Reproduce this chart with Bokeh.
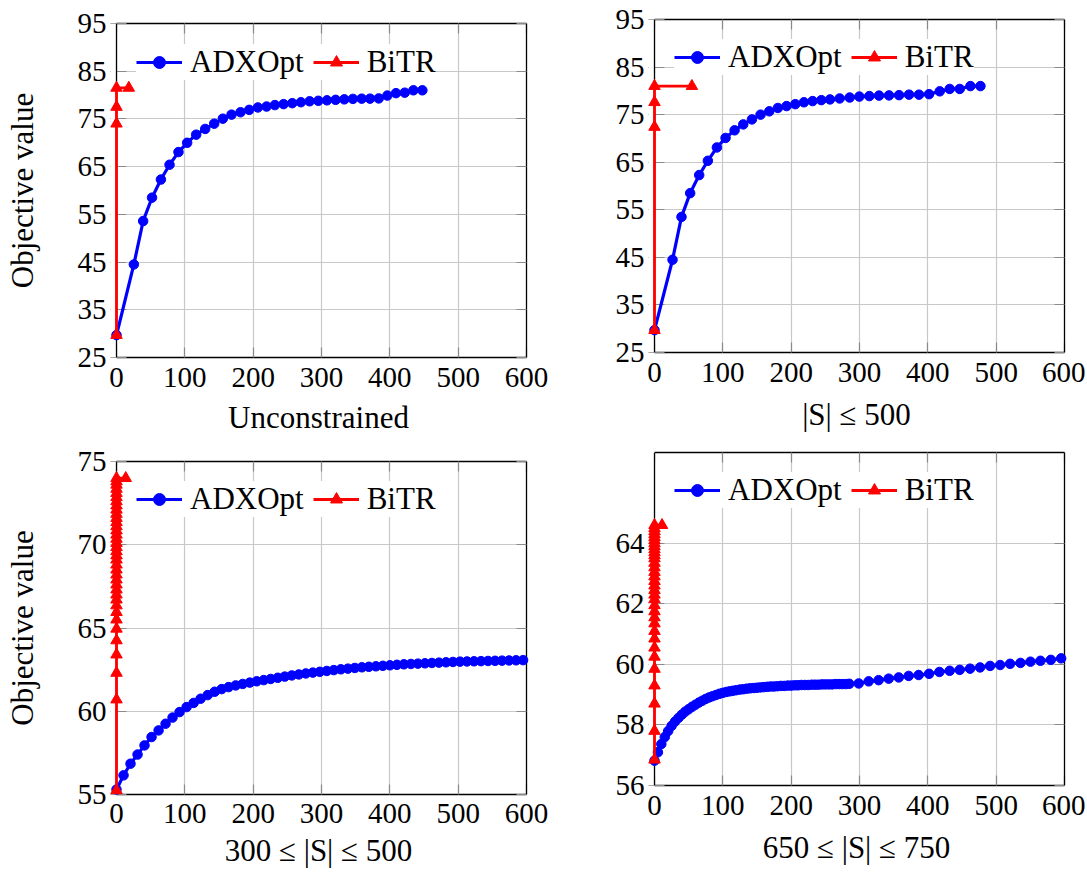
from bokeh.plotting import figure
from bokeh.layouts import column, row
from bokeh.models import Range1d, FixedTicker, LinearAxis, BoxAnnotation, Span
from bokeh.embed import file_html
from bokeh.resources import INLINE

# ---------------- data ----------------
x_ticks = [0, 100, 200, 300, 400, 500, 600]

# Panel 1: Unconstrained
adx1_x = [0, 25.4, 39, 52, 65, 77.6, 90.7, 103.4, 116.6, 129.8, 143, 155.6, 168.3, 181.5, 194.2,
          206.9, 219.6, 231.8, 244.5, 257.2, 269.9, 282.6, 295.3, 308, 320.7, 333.4, 346, 358.8,
          371, 383.7, 396.4, 409, 421.8, 434.5, 447.6]
adx1_y = [29.7, 44.5, 53.6, 58.5, 62.3, 65.4, 68.05, 70.0, 71.7, 72.9, 74.0, 75.05, 75.9, 76.4, 76.9,
          77.4, 77.6, 77.9, 78.1, 78.3, 78.5, 78.7, 78.8, 78.9, 79.0, 79.1, 79.2, 79.25,
          79.25, 79.3, 79.9, 80.4, 80.5, 81.0, 81.0]
bitr1_x = [0, 0, 0, 0, 18]
bitr1_y = [29.7, 74.0, 77.5, 81.5, 81.5]

# Panel 2: |S| <= 500
adx2_x = [0, 26.4, 39.5, 52.2, 65.4, 78.1, 91.3, 104, 117.2, 129.9, 142.6, 155.2, 168, 180.6, 193.3,
          206, 218.7, 231.4, 244.1, 256.8, 270.9, 285.6, 299.8, 314.4, 328.6, 343.2, 357.9, 372.5,
          387.1, 401.8, 417.4, 432, 446.7, 462.3, 477]
adx2_y = [29.7, 44.5, 53.5, 58.5, 62.3, 65.3, 68.1, 70.1, 71.7, 72.95, 74.0, 75.0, 75.7, 76.4, 76.8,
          77.2, 77.6, 77.85, 78.05, 78.2, 78.4, 78.6, 78.8, 78.9, 79.0, 79.05, 79.1, 79.2,
          79.2, 79.3, 79.9, 80.4, 80.4, 81.0, 81.0]
bitr2_x = [0, 0, 0, 0, 54.7]
bitr2_y = [29.7, 72.4, 77.6, 81.0, 81.0]

# Panel 3: 300 <= |S| <= 500
adx3_x = [0, 10.3, 20.5, 30.8, 41, 51.3, 61.6, 71.8, 82, 92.3,
          102.6, 112.9, 123, 133.4, 143.6, 153.9, 164.1, 174.4, 184.7, 195,
          205.2, 215.5, 225.7, 236, 246.2, 256.5, 266.8, 277, 287.3, 297.5,
          307.8, 318, 328.3, 338.6, 348.8, 359.1, 369.3, 379.6, 389.8, 400.1,
          410.4, 420.6, 430.9, 441.1, 451.4, 461.6, 471.9, 482.2, 492.4, 502.7,
          512.9, 523.2, 533.4, 543.7, 554, 564.2, 574.5, 584.7, 595]
adx3_y = [55.3, 56.15, 56.85, 57.4, 57.95, 58.45, 58.85, 59.25, 59.62, 59.95,
          60.25, 60.5, 60.75, 60.97, 61.17, 61.33, 61.45, 61.55, 61.64, 61.72,
          61.8, 61.87, 61.94, 62.01, 62.08, 62.15, 62.21, 62.27, 62.32, 62.37,
          62.42, 62.47, 62.52, 62.56, 62.6, 62.64, 62.67, 62.7, 62.73, 62.76,
          62.79, 62.82, 62.84, 62.86, 62.88, 62.9, 62.92, 62.94, 62.96, 62.98,
          62.99, 63.0, 63.01, 63.02, 63.03, 63.04, 63.05, 63.06, 63.07]
bitr3_y = [55.25, 60.7, 62.3, 63.4, 64.25, 64.95, 65.5, 65.95, 66.35, 66.7,
           67.0, 67.3, 67.6, 67.9, 68.2, 68.5, 68.8, 69.1, 69.35, 69.6,
           69.85, 70.1, 70.35, 70.6, 70.85, 71.1, 71.35, 71.6, 71.85, 72.1,
           72.35, 72.6, 72.85, 73.1, 73.35, 73.6, 73.8, 74.0, 74.0]
bitr3_x = [0] * 38 + [13.5]

# Panel 4: 650 <= |S| <= 750
adx4_x = [0, 5, 10, 15, 20, 25, 30, 35, 40, 45, 50, 55, 60, 65, 70, 75, 80, 85, 90, 95,
          100, 105, 110, 115, 120, 125, 130, 135, 140, 145, 150, 155, 160, 165, 170, 175,
          180, 185, 190, 195, 200, 205, 210, 215, 220, 225, 230, 235, 240, 245, 250, 255,
          260, 265, 270, 275, 280, 285,
          298.8, 313.4, 328, 342.7, 357.4, 372, 386.6, 401.8, 416.9, 432, 446.7, 461.8,
          476.5, 491.1, 505.8, 520.4, 535.6, 550.2, 564.8, 580, 595.1]
adx4_y = [56.82, 57.1, 57.37, 57.6, 57.8, 57.97, 58.11, 58.23, 58.34, 58.44, 58.52, 58.6, 58.67,
          58.74, 58.8, 58.86, 58.91, 58.95, 58.99, 59.03,
          59.06, 59.09, 59.11, 59.13, 59.15, 59.17, 59.18, 59.2, 59.21, 59.22, 59.23, 59.24,
          59.25, 59.26, 59.27, 59.27, 59.28, 59.29, 59.29, 59.3, 59.3, 59.31, 59.31, 59.32,
          59.32, 59.32, 59.33, 59.33, 59.33, 59.34, 59.34, 59.34, 59.34, 59.35, 59.35, 59.35,
          59.35, 59.36,
          59.37, 59.44, 59.48, 59.53, 59.57, 59.62, 59.65, 59.69, 59.75, 59.79, 59.82, 59.86,
          59.9, 59.95, 59.98, 60.02, 60.05, 60.09, 60.12, 60.15, 60.2]
bitr4_y = [56.85, 57.8, 58.7, 59.3, 59.85, 60.25, 60.55, 60.85, 61.1, 61.35,
           61.55, 61.75, 61.95, 62.15, 62.3, 62.45, 62.6, 62.75, 62.9, 63.05,
           63.2, 63.35, 63.5, 63.6, 63.7, 63.8, 63.9, 64.0, 64.1, 64.2,
           64.3, 64.4, 64.5, 64.6, 64.6]
bitr4_x = [0] * 34 + [11]

y_ticks_top = [25, 35, 45, 55, 65, 75, 85, 95]
y_ticks_3 = [55, 60, 65, 70, 75]
y_ticks_4 = [56, 58, 60, 62, 64]

labels = ["Unconstrained", "|S| \u2264 500", "300 \u2264 |S| \u2264 500", "650 \u2264 |S| \u2264 750"]

FONT = "Liberation Serif"
FS_TICK = "29px"
FS_LABEL = "31px"
GRID = "#c8c8c8"
TICK = "#8a8a8a"
X_PAD = 6          # px of white space left of x=0 so markers on x=0 are not clipped
X_START = -X_PAD * 600 / 410


def style_axis(ax, ticks, bounds, show_labels=True, tick_in=10):
    ax.ticker = FixedTicker(ticks=ticks)
    if bounds is not None:
        ax.bounds = bounds
    ax.major_tick_in = tick_in
    ax.major_tick_out = 0
    ax.minor_tick_in = 0
    ax.minor_tick_out = 0
    ax.major_tick_line_color = TICK
    ax.major_tick_line_width = 1.2
    ax.axis_line_color = "black"
    ax.axis_line_width = 1.3
    ax.major_label_text_font = FONT
    ax.axis_label_text_font = FONT
    ax.axis_label_text_font_size = FS_LABEL
    ax.axis_label_text_font_style = "normal"
    ax.axis_label_text_color = "black"
    if show_labels:
        ax.major_label_text_font_size = FS_TICK
        ax.major_label_text_color = "black"
    else:
        ax.major_label_text_font_size = "1px"
        ax.major_label_text_color = None
        ax.major_label_standoff = 0


def make_fig(width, height, yr, yticks, xlabel, ylabel, bl, br, bt, bb,
             ax_x, ax_y, bt_x, bt_y, leg_y, xs_tick, xs_label):
    p = figure(width=width, height=height, x_range=Range1d(X_START, 600), y_range=Range1d(*yr),
               output_backend="svg", toolbar_location=None,
               min_border_left=bl, min_border_right=br, min_border_top=bt, min_border_bottom=bb)
    p.title.visible = False
    p.outline_line_color = None
    p.background_fill_color = "white"
    p.border_fill_color = "white"

    style_axis(p.xaxis[0], x_ticks, (0, 600))
    # left axis sits at the frame edge (X_PAD px left of x = 0): no line, long inward ticks
    style_axis(p.yaxis[0], yticks, None, tick_in=10 + X_PAD)
    p.yaxis[0].axis_line_color = None
    p.xaxis[0].major_label_standoff = xs_tick
    p.yaxis[0].major_label_standoff = 4
    p.xaxis[0].axis_label = xlabel
    p.xaxis[0].axis_label_standoff = xs_label
    if ylabel:
        p.yaxis[0].axis_label = ylabel
        p.yaxis[0].axis_label_standoff = 35

    top = LinearAxis()
    style_axis(top, x_ticks, (0, 600), show_labels=False)
    p.add_layout(top, "above")
    right = LinearAxis()
    style_axis(right, yticks, yr, show_labels=False)
    p.add_layout(right, "right")

    p.xgrid.ticker = FixedTicker(ticks=x_ticks)
    p.ygrid.ticker = FixedTicker(ticks=yticks)
    p.xgrid.grid_line_color = GRID
    p.ygrid.grid_line_color = GRID
    p.xgrid.grid_line_width = 1.2
    p.ygrid.grid_line_width = 1.2

    # white strip left of x = 0 (covers grid and tick stubs), then the box edge at x = 0
    p.add_layout(BoxAnnotation(right=0, fill_color="white", fill_alpha=1.0,
                               line_color=None, level="annotation"))
    p.add_layout(Span(location=0, dimension="height", line_color="black",
                      line_width=1.3, level="annotation"))

    r1 = p.line(ax_x, ax_y, line_color="blue", line_width=3.2, legend_label="ADXOpt")
    r2 = p.scatter(ax_x, ax_y, marker="circle", size=9.5, fill_color="blue", line_color="blue",
                   legend_label="ADXOpt")
    r3 = p.line(bt_x, bt_y, line_color="red", line_width=2.8, legend_label="BiTR")
    r4 = p.scatter(bt_x, bt_y, marker="triangle", size=11.5, fill_color="red", line_color="red",
                   legend_label="BiTR")
    for r in (r1, r2, r3, r4):
        r.level = "overlay"

    lg = p.legend[0]
    lg.location = (26, leg_y)
    lg.orientation = "horizontal"
    lg.label_text_font = FONT
    lg.label_text_font_size = FS_LABEL
    lg.label_text_color = "black"
    lg.border_line_color = None
    lg.background_fill_color = "white"
    lg.background_fill_alpha = 1.0
    lg.glyph_width = 46
    lg.glyph_height = 30
    lg.label_standoff = 8
    lg.spacing = 9
    lg.padding = 6
    lg.margin = 0
    return p


# column 1: x=0 at 116 px ; column 2: x=0 at 654 px
p1 = make_fig(590, 438, (25, 95), y_ticks_top, labels[0], "Objective value",
              110, 64, 23, 81, adx1_x, adx1_y, bitr1_x, bitr1_y, 277, 10, 10)
p2 = make_fig(495, 438, (25, 95), y_ticks_top, labels[1], None,
              58, 21, 19, 86, adx2_x, adx2_y, bitr2_x, bitr2_y, 277, 10, 12)
p3 = make_fig(590, 434, (55, 75), y_ticks_3, labels[2], "Objective value",
              110, 64, 23, 78, adx3_x, adx3_y, bitr3_x, bitr3_y, 277, 9, 7)
p4 = make_fig(495, 434, (56, 67), y_ticks_4, labels[3], None,
              58, 21, 14, 87, adx4_x, adx4_y, bitr4_x, bitr4_y, 277, 10, 12)

layout = column(row(column(p1), column(p2)), row(column(p3), column(p4)))

open("out.html", "w").write(file_html(layout, INLINE))
